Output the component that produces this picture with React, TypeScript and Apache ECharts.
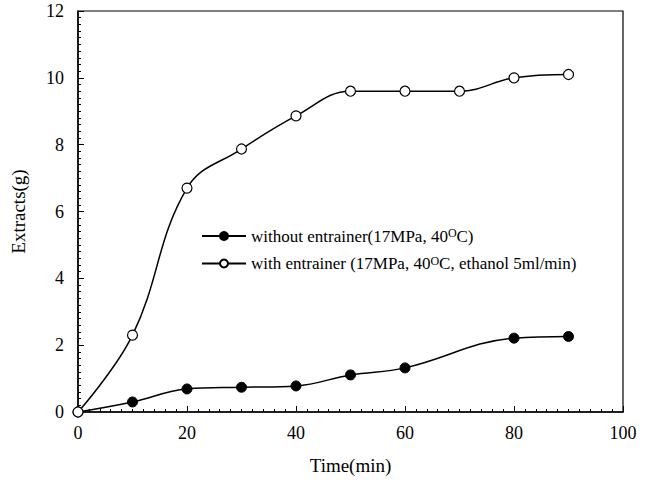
import React, { useEffect, useRef } from "react";
import * as echarts from "echarts";

const timeMin = [0, 10, 20, 30, 40, 50, 60, 70, 80, 90];
const withoutEntrainer: [number, number][] = [
  [0, 0], [10, 0.3], [20, 0.69], [30, 0.74], [40, 0.78], [50, 1.11], [60, 1.32], [80, 2.21], [90, 2.26],
];
const withEntrainerValues = [0, 2.3, 6.7, 7.87, 8.86, 9.6, 9.6, 9.6, 10.0, 10.1];
const seriesNames = ["without entrainer(17MPa, 40OC)", "with entrainer (17MPa, 40OC, ethanol 5ml/min)"];
const legendLabels: Record<string, string> = {
  [seriesNames[0]]: "without entrainer(17MPa, 40{sup|O}C)",
  [seriesNames[1]]: "with entrainer (17MPa, 40{sup|O}C, ethanol 5ml/min)",
};

const FONT = "Liberation Serif";

export default function App() {
  const ref = useRef<HTMLDivElement>(null);
  useEffect(() => {
    if (!ref.current) return;
    const chart = echarts.init(ref.current, undefined, { renderer: "svg" });
    const withData = timeMin.map((t, i) => [t, withEntrainerValues[i]]);
    chart.setOption({
      animation: false,
      backgroundColor: "#ffffff",
      textStyle: { fontFamily: FONT, color: "#000" },
      grid: {
        left: 78, right: 26, top: 11, bottom: 74,
        show: true, borderColor: "#000", borderWidth: 1.2,
      },
      legend: {
        orient: "vertical",
        left: 196,
        top: 222,
        itemWidth: 44,
        itemHeight: 10,
        itemGap: 10,
        data: seriesNames,
        formatter: (name: string) => legendLabels[name],
        textStyle: {
          fontFamily: FONT,
          fontSize: 17,
          color: "#000",
          rich: {
            sup: { fontFamily: FONT, fontSize: 12, color: "#000", verticalAlign: "top", lineHeight: 18 },
          },
        },
      },
      xAxis: {
        type: "value",
        min: 0, max: 100, interval: 20,
        name: "Time(min)",
        nameLocation: "middle",
        nameGap: 44,
        nameTextStyle: { fontFamily: FONT, fontSize: 19, color: "#000" },
        axisLine: { show: true, lineStyle: { color: "#000", width: 1.5 } },
        axisTick: { show: true, inside: true, length: 6, lineStyle: { color: "#000", width: 1 } },
        minorTick: { show: true, splitNumber: 10, length: 3, lineStyle: { color: "#000", width: 1 } },
        axisLabel: { fontFamily: FONT, fontSize: 18, color: "#000", margin: 12 },
        splitLine: { show: false },
      },
      yAxis: {
        type: "value",
        min: 0, max: 12, interval: 2,
        name: "Extracts(g)",
        nameLocation: "middle",
        nameGap: 50,
        nameTextStyle: { fontFamily: FONT, fontSize: 19, color: "#000" },
        axisLine: { show: true, lineStyle: { color: "#000", width: 1.5 } },
        axisTick: { show: true, inside: true, length: 6, lineStyle: { color: "#000", width: 1 } },
        minorTick: { show: true, splitNumber: 10, length: 3, lineStyle: { color: "#000", width: 1 } },
        axisLabel: { fontFamily: FONT, fontSize: 18, color: "#000", margin: 14 },
        splitLine: { show: false },
      },
      series: [
        {
          name: seriesNames[0],
          type: "line",
          data: withoutEntrainer,
          smooth: 0.4,
          symbol: "circle",
          symbolSize: 10,
          itemStyle: { color: "#000", borderColor: "#000", borderWidth: 1 },
          lineStyle: { color: "#000", width: 1.5 },
          z: 2,
        },
        {
          name: seriesNames[1],
          type: "line",
          data: withData,
          smooth: 0.4,
          symbol: "circle",
          symbolSize: 10,
          itemStyle: { color: "#fff", borderColor: "#000", borderWidth: 1.2 },
          lineStyle: { color: "#000", width: 1.5 },
          z: 3,
        },
      ],
    });
    return () => chart.dispose();
  }, []);
  return <div ref={ref} style={{ width: 649, height: 486, position: "absolute", left: 0, top: 0 }} />;
}
